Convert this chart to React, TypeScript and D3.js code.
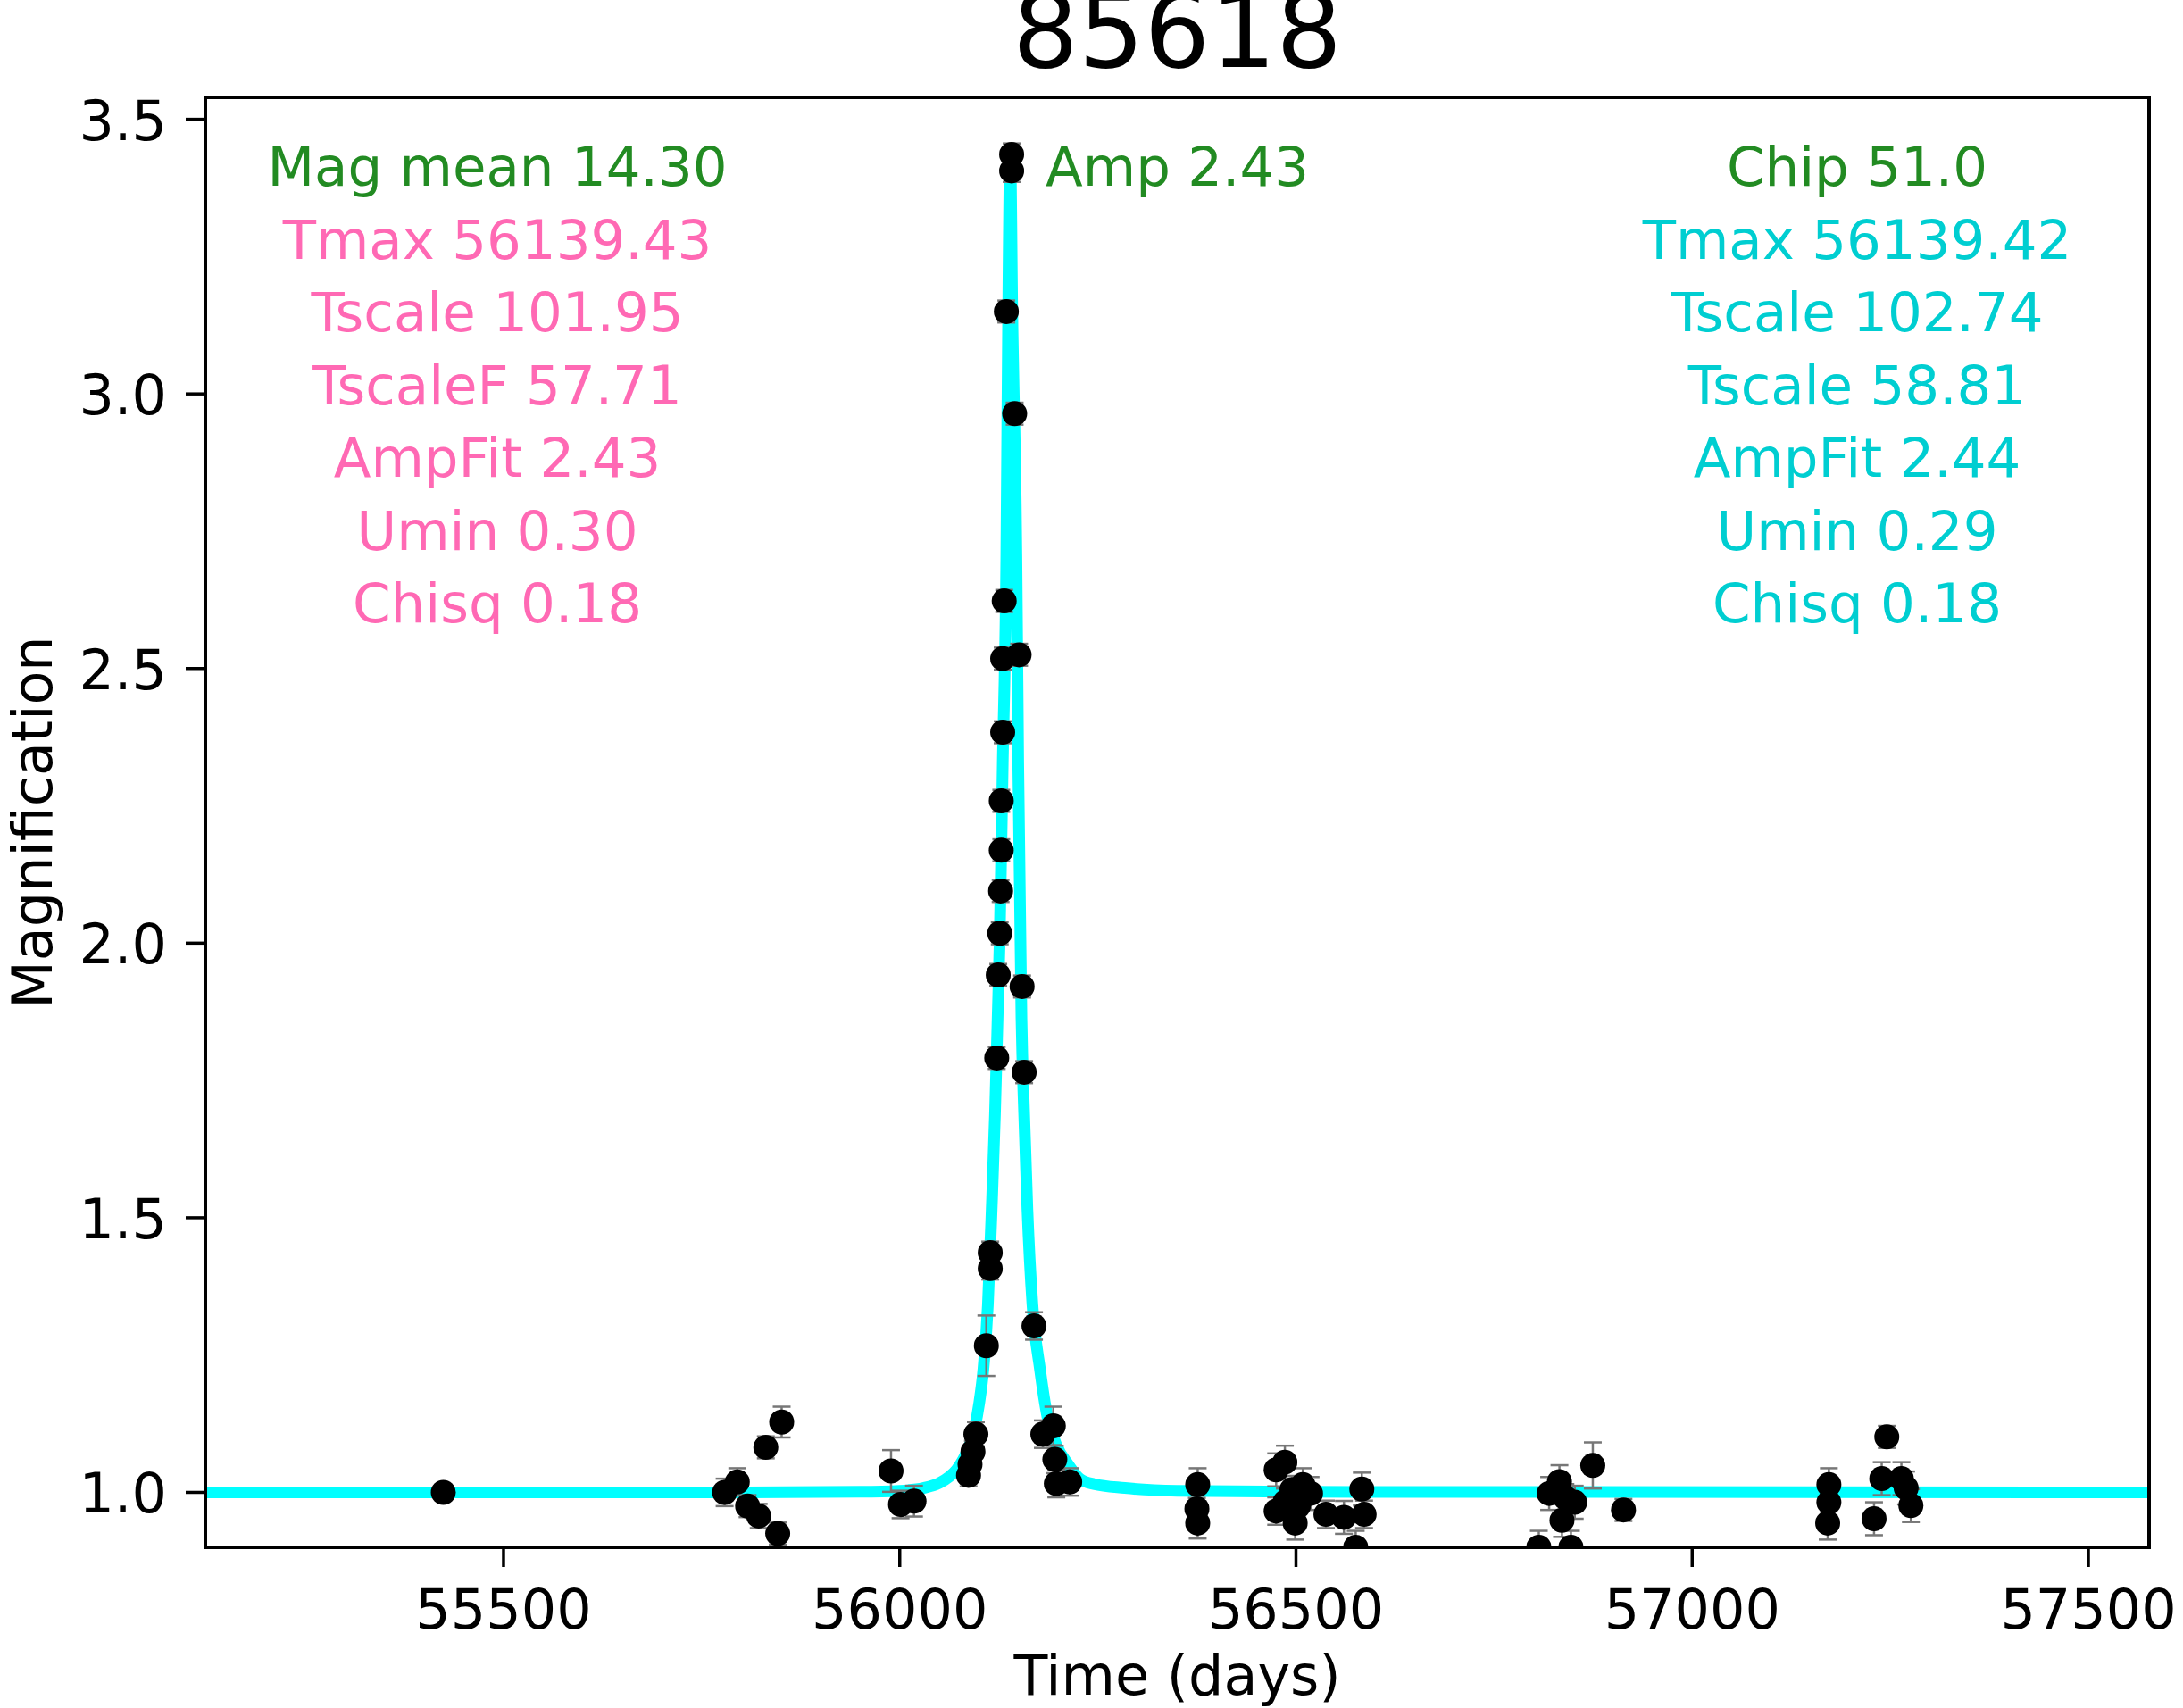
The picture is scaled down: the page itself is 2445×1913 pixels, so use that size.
import React from "react";
import * as d3 from "d3";

// Observed light curve: epoch (days), magnification, 1-sigma error
const obsTime = [
  55424, 55779, 55795, 55808, 55822, 55846, 55831, 55851,
  55989, 56001, 56018,
  56086.8, 56088.7, 56092.4, 56096.1, 56109.3, 56114.2, 56114.2,
  56122.4, 56124.3, 56126.2, 56127.3, 56128.1, 56128.1, 56129.9, 56129.9,
  56131.8, 56134.5, 56141.2, 56141.2, 56145, 56150.6, 56154.4, 56157,
  56169.4, 56180.6, 56193.8, 56195.7, 56197.6, 56214.5,
  56376, 56375, 56376,
  56475, 56486, 56508.7, 56486, 56499, 56518.4, 56475, 56495, 56503,
  56537.8, 56560.5, 56583.1, 56586, 56575.4,
  56832.5, 56819.5, 56851.8, 56835.7, 56840, 56874.6, 56913.3, 56806.5, 56847,
  57172.5, 57172.5, 57171,
  57245.6, 57239.2, 57229.5, 57264, 57270, 57276,
];
const obsMag = [
  1.0, 1.0, 1.019, 0.975, 0.957, 0.925, 1.082, 1.128,
  1.039, 0.978, 0.984,
  1.031, 1.051, 1.074, 1.106, 1.267, 1.4365, 1.4075,
  1.791, 1.942, 2.018, 2.095, 2.169, 2.259, 2.384, 2.518,
  2.623, 3.15, 3.436, 3.406, 2.964, 2.525, 1.921, 1.765,
  1.303, 1.106, 1.121, 1.06, 1.016, 1.019,
  1.014, 0.97, 0.944,
  1.041, 1.055, 1.014, 0.982, 0.944, 0.998, 0.966, 1.005, 0.975,
  0.96, 0.9545, 1.006, 0.96, 0.9,
  1.0195, 0.998, 0.982, 0.949, 0.99, 1.049, 0.968, 0.9, 0.9,
  1.014, 0.982, 0.944,
  1.101, 1.025, 0.952, 1.025, 1.008, 0.976,
];
const obsErr = [
  0.012, 0.025, 0.025, 0.02, 0.022, 0.02, 0.02, 0.028,
  0.038, 0.025, 0.028,
  0.02, 0.02, 0.02, 0.022, 0.055, 0.02, 0.02,
  0.02, 0.02, 0.02, 0.02, 0.02, 0.02, 0.02, 0.02,
  0.02, 0.02, 0.02, 0.02, 0.02, 0.02, 0.02, 0.02,
  0.025, 0.025, 0.035, 0.025, 0.025, 0.025,
  0.03, 0.02, 0.028,
  0.03, 0.03, 0.03, 0.025, 0.03, 0.03, 0.025, 0.025, 0.025,
  0.025, 0.03, 0.03, 0.025, 0.03,
  0.03, 0.03, 0.03, 0.03, 0.025, 0.042, 0.02, 0.03, 0.03,
  0.03, 0.025, 0.03,
  0.02, 0.03, 0.03, 0.03, 0.03, 0.03,
];

// Fitted model curve sampled at (time, magnification)
const fitTime = [
  55124, 55800, 55950, 56000, 56030, 56050, 56062, 56072, 56080, 56088,
  56095, 56100, 56105.6, 56111.2, 56116, 56120.2, 56123.5, 56126, 56130,
  56134.5, 56136.8, 56139.4, 56142, 56147.2, 56149.5, 56153.6, 56157,
  56161.1, 56167.5, 56176.9, 56186.3, 56198, 56212.6, 56227, 56245,
  56284, 56350, 56500, 57577,
];
const fitMag = [
  1.0, 1.0, 1.001, 1.003, 1.008, 1.017, 1.028, 1.042, 1.06, 1.085,
  1.12, 1.16, 1.225, 1.341, 1.515, 1.689, 1.863, 2.0, 2.328,
  2.707, 3.15, 3.44, 3.15, 2.707, 2.328, 1.863, 1.689,
  1.515, 1.341, 1.225, 1.138, 1.085, 1.051, 1.025, 1.015,
  1.008, 1.003, 1.001, 1.0,
];

const xTicks = [55500, 56000, 56500, 57000, 57500];
const yTicks = [1.0, 1.5, 2.0, 2.5, 3.0, 3.5];

const titleText = "85618";
const leftLines = [
  "Mag mean 14.30",
  "Tmax 56139.43",
  "Tscale 101.95",
  "TscaleF 57.71",
  "AmpFit 2.43",
  "Umin 0.30",
  "Chisq 0.18",
];
const rightLines = [
  "Chip 51.0",
  "Tmax 56139.42",
  "Tscale 102.74",
  "Tscale 58.81",
  "AmpFit 2.44",
  "Umin 0.29",
  "Chisq 0.18",
];
const ampText = "Amp 2.43";

const W = 2445;
const H = 1913;
const left = 230;
const right = 2407;
const top = 109;
const bottom = 1733;

const GREEN = "#228b22";
const PINK = "#ff69b4";
const TURQ = "#00ced1";
const FONT = "'DejaVu Sans', Verdana, sans-serif";

export default function App() {
  const x = d3.scaleLinear().domain([55123.7, 57576.6]).range([left, right]);
  const y = d3.scaleLinear().domain([0.9, 3.54]).range([bottom, top]);

  const fitPts: [number, number][] = fitTime.map((t, i) => [t, fitMag[i]]);
  const line = d3
    .line<[number, number]>()
    .x((d) => x(d[0]))
    .y((d) => y(d[1]))
    .curve(d3.curveMonotoneX);

  const lineGap = 81.5;
  const firstBase = 208;

  return (
    <svg
      width={W}
      height={H}
      viewBox={`0 0 ${W} ${H}`}
      style={{ position: "absolute", left: 0, top: 0, display: "block", background: "#fff" }}
      fontFamily={FONT}
    >
      <defs>
        <clipPath id="plotClip">
          <rect x={left} y={top} width={right - left} height={bottom - top} />
        </clipPath>
      </defs>
      <rect x={0} y={0} width={W} height={H} fill="#fff" />

      {/* title */}
      <text x={(left + right) / 2} y={75} textAnchor="middle" fontSize={116} fill="#000">
        {titleText}
      </text>

      <g clipPath="url(#plotClip)">
        {/* model curve */}
        <path d={line(fitPts) || ""} fill="none" stroke="#00ffff" strokeWidth={13} strokeLinejoin="round" />

        {/* error bars */}
        {obsTime.map((t, i) => {
          const cx = x(t);
          const y0 = y(obsMag[i] - obsErr[i]);
          const y1 = y(obsMag[i] + obsErr[i]);
          return (
            <g key={"e" + i} stroke="#777" strokeWidth={2.5}>
              <line x1={cx} x2={cx} y1={y0} y2={y1} />
              <line x1={cx - 10} x2={cx + 10} y1={y0} y2={y0} />
              <line x1={cx - 10} x2={cx + 10} y1={y1} y2={y1} />
            </g>
          );
        })}

        {/* observations */}
        {obsTime.map((t, i) => (
          <circle key={"p" + i} cx={x(t)} cy={y(obsMag[i])} r={14} fill="#000" />
        ))}
      </g>

      {/* annotation blocks */}
      {leftLines.map((s, i) => (
        <text
          key={"l" + i}
          x={557}
          y={firstBase + i * lineGap}
          textAnchor="middle"
          fontSize={61}
          fill={i === 0 ? GREEN : PINK}
        >
          {s}
        </text>
      ))}
      {rightLines.map((s, i) => (
        <text
          key={"r" + i}
          x={2080}
          y={firstBase + i * lineGap}
          textAnchor="middle"
          fontSize={61}
          fill={i === 0 ? GREEN : TURQ}
        >
          {s}
        </text>
      ))}
      <text x={1171} y={firstBase} fontSize={61} fill={GREEN}>
        {ampText}
      </text>

      {/* axes frame */}
      <rect x={left} y={top} width={right - left} height={bottom - top} fill="none" stroke="#000" strokeWidth={4} />

      {/* x ticks */}
      {xTicks.map((t) => (
        <g key={"xt" + t}>
          <line x1={x(t)} x2={x(t)} y1={bottom} y2={bottom + 22} stroke="#000" strokeWidth={3.5} />
          <text x={x(t)} y={1824} textAnchor="middle" fontSize={62} fill="#000">
            {t}
          </text>
        </g>
      ))}

      {/* y ticks */}
      {yTicks.map((v) => (
        <g key={"yt" + v}>
          <line x1={left - 22} x2={left} y1={y(v)} y2={y(v)} stroke="#000" strokeWidth={3.5} />
          <text x={187} y={y(v) + 23} textAnchor="end" fontSize={62} fill="#000">
            {v.toFixed(1)}
          </text>
        </g>
      ))}

      {/* axis labels */}
      <text x={(left + right) / 2} y={1898} textAnchor="middle" fontSize={62} fill="#000">
        Time (days)
      </text>
      <text
        transform={`translate(58, ${(top + bottom) / 2}) rotate(-90)`}
        textAnchor="middle"
        fontSize={62}
        fill="#000"
      >
        Magnification
      </text>
    </svg>
  );
}
